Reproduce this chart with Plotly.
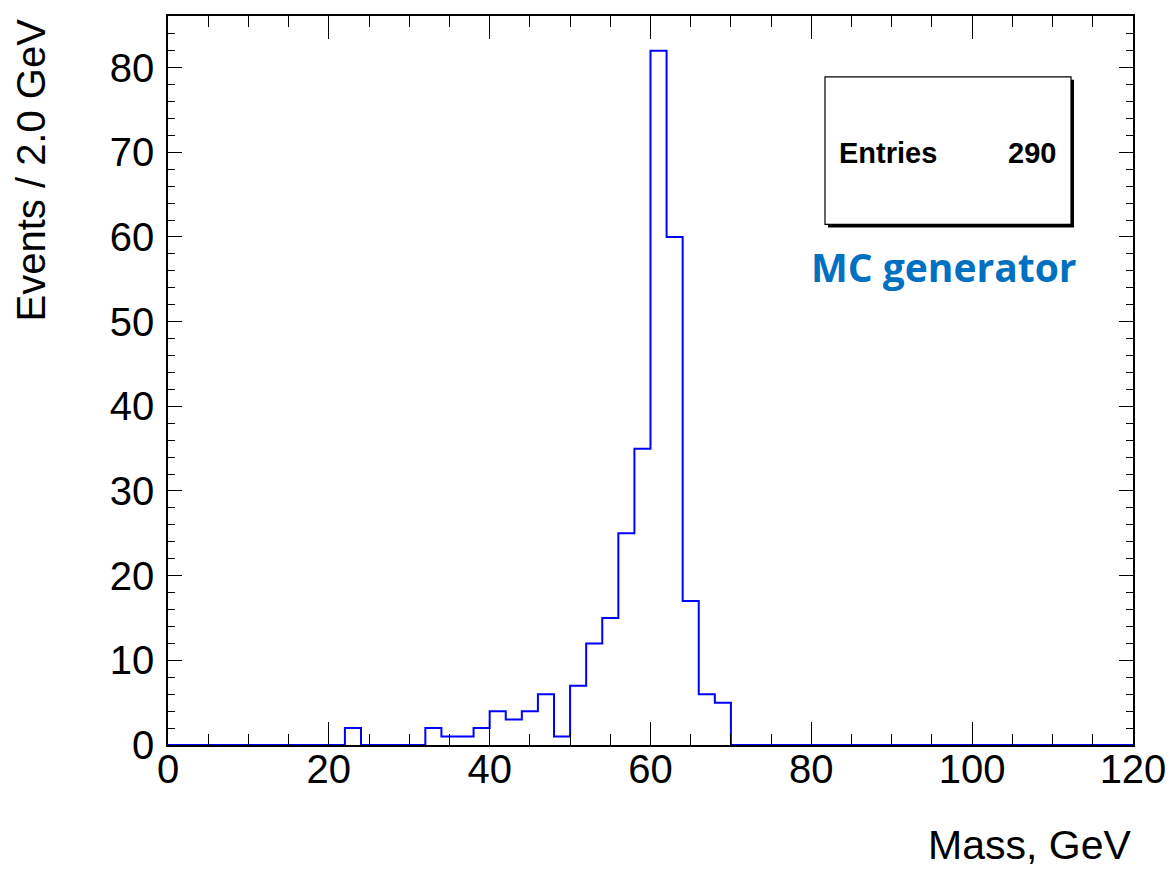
import plotly.graph_objects as go

# Histogram data: 2 GeV bins from 0 to 120 GeV
bin_width = 2.0
bin_low = 0.0
counts = [0, 0, 0, 0, 0, 0, 0, 0, 0, 0,   # 0-20
          0, 2, 0, 0, 0, 0, 2, 1, 1, 2,   # 20-40
          4, 3, 4, 6, 1, 7, 12, 15, 25, 35,  # 40-60
          82, 60, 17, 6, 5, 0, 0, 0, 0, 0,  # 60-80
          0, 0, 0, 0, 0, 0, 0, 0, 0, 0,   # 80-100
          0, 0, 0, 0, 0, 0, 0, 0, 0, 0]   # 100-120
entries = 290
x_title = "Mass, GeV"
y_title = "Events / 2.0 GeV"
label = "MC generator"
x_ticks = [0, 20, 40, 60, 80, 100, 120]

edges = [bin_low + i * bin_width for i in range(len(counts) + 1)]
ys = counts + [counts[-1]]

FONT = "Liberation Sans, Arial, Helvetica, sans-serif"

fig = go.Figure()
fig.add_trace(go.Scatter(x=edges, y=ys, mode="lines", line=dict(color="#0000ff", width=2, shape="hv"),
                         hoverinfo="skip", showlegend=False))

# page has an 8px body margin; size figure so plot lands at the reference place
OFF = 8
SW, SH = 1176, 869
PL, PR, PT, PB = 168, 1133, 14, 745   # plot area in screen pixels
W, H = SW - OFF, SH - OFF
L, T = PL - OFF, PT - OFF
R, B = SW - PR, SH - PB
pw, ph = PR - PL, PB - PT

def px(xp):
    return (xp - PL) / pw

def py(yp):
    return (PB - yp) / ph

ymax = 1.05 * max(counts)

fig.update_layout(
    width=W, height=H,
    margin=dict(l=L, r=R, t=T, b=B),
    paper_bgcolor="white", plot_bgcolor="white",
    font=dict(family=FONT, color="black"),
    xaxis=dict(range=[0, 120], tickmode="array", tickvals=x_ticks,
               ticks="inside", ticklen=23, tickwidth=1, tickcolor="black",
               showline=True, linecolor="black", linewidth=1.5, mirror="ticks",
               showgrid=False, zeroline=False,
               tickfont=dict(size=40, family=FONT), ticklabelstandoff=-12,
               minor=dict(ticks="inside", ticklen=11, tickwidth=1, tickcolor="black",
                          dtick=5, tick0=0, showgrid=False)),
    yaxis=dict(range=[0, ymax], tickmode="linear", tick0=0, dtick=10,
               ticks="inside", ticklen=14, tickwidth=1, tickcolor="black",
               showline=True, linecolor="black", linewidth=1.5, mirror="ticks",
               showgrid=False, zeroline=False,
               tickfont=dict(size=40, family=FONT), ticklabelstandoff=4,
               minor=dict(ticks="inside", ticklen=7, tickwidth=1, tickcolor="black",
                          dtick=2, tick0=0, showgrid=False)),
)

# Axis titles (ROOT style: right/top aligned)
fig.add_annotation(text=x_title, xref="paper", yref="paper", x=1, y=py(845),
                   xanchor="right", yanchor="middle", showarrow=False,
                   font=dict(size=41, family=FONT, color="black"))
fig.add_annotation(text=y_title, xref="paper", yref="paper", x=px(31), y=py(15),
                   xanchor="center", yanchor="top", textangle=-90, showarrow=False,
                   font=dict(size=40, family=FONT, color="black"))

# Stats box with shadow
fig.add_shape(type="rect", xref="paper", yref="paper",
              x0=px(828), x1=px(1074), y0=py(226), y1=py(78),
              line=dict(width=0), fillcolor="black", layer="above")
fig.add_shape(type="rect", xref="paper", yref="paper",
              x0=px(825), x1=px(1071), y0=py(223), y1=py(75),
              line=dict(width=1.2, color="black"), fillcolor="white", layer="above")
fig.add_annotation(text="<b>Entries</b>", xref="paper", yref="paper", x=px(837), y=py(151),
                   xanchor="left", yanchor="middle", showarrow=False,
                   font=dict(size=29, family=FONT, color="black"))
fig.add_annotation(text="<b>%d</b>" % entries, xref="paper", yref="paper", x=px(1058), y=py(151),
                   xanchor="right", yanchor="middle", showarrow=False,
                   font=dict(size=29, family=FONT, color="black"))

fig.add_annotation(text="<b>%s</b>" % label, xref="paper", yref="paper", x=px(944), y=py(265),
                   xanchor="center", yanchor="middle", showarrow=False,
                   font=dict(size=39, family="Open Sans, Noto Sans, sans-serif", color="#0070c0"))

fig.write_html("out.html")
